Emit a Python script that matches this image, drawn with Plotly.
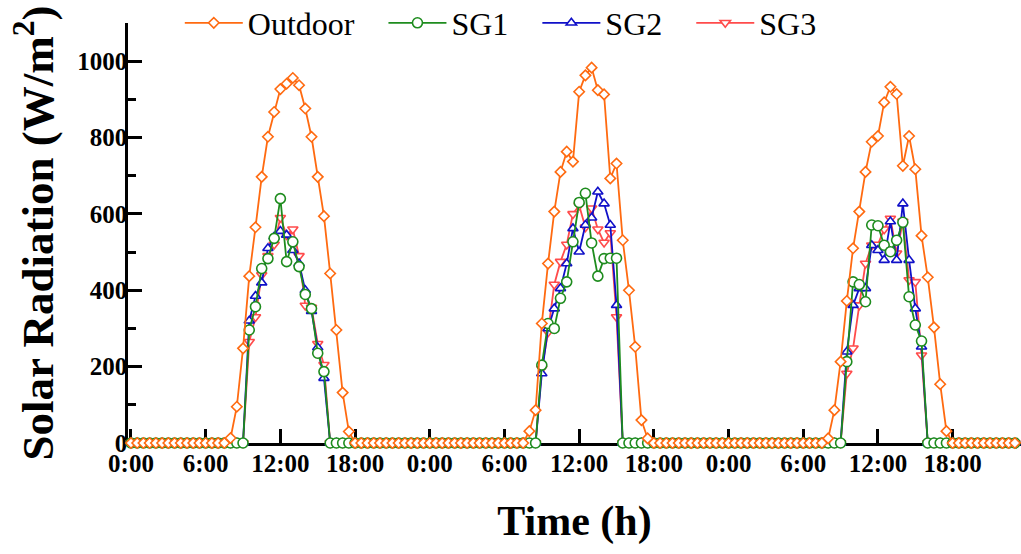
import plotly.graph_objects as go

# Time axis: half-hourly readings over three days (hours since start)
hours = [i * 0.5 for i in range(144)]

tick_vals = [0, 6, 12, 18, 24, 30, 36, 42, 48, 54, 60, 66]
tick_text = ["0:00", "6:00", "12:00", "18:00", "0:00", "6:00", "12:00", "18:00",
             "0:00", "6:00", "12:00", "18:00"]

outdoor_day1 = [0, 0, 0, 0, 0, 0, 0, 0, 0, 0, 0, 0, 0, 0, 0, 0,
                13, 95, 248, 437, 565, 697, 802, 867, 927, 941, 956, 937, 876, 802, 697, 594, 444, 296, 132, 30,
                0, 0, 0, 0, 0, 0, 0, 0, 0, 0, 0, 0]
outdoor_day2 = [0, 0, 0, 0, 0, 0, 0, 0, 0, 0, 0, 0, 0, 0, 0, 0,
                31, 86, 313, 470, 606, 710, 763, 737, 920, 963, 983, 924, 913, 693, 732, 531, 400, 252, 60, 12,
                0, 0, 0, 0, 0, 0, 0, 0, 0, 0, 0, 0]
outdoor_day3 = [0, 0, 0, 0, 0, 0, 0, 0, 0, 0, 0, 0, 0, 0, 0, 0,
                12, 86, 213, 372, 510, 606, 710, 789, 804, 892, 933, 914, 726, 804, 717, 543, 434, 303, 154, 31,
                0, 0, 0, 0, 0, 0, 0, 0, 0, 0, 0, 0]

sg1_day1 = [0, 0, 0, 0, 0, 0, 0, 0, 0, 0, 0, 0, 0, 0, 0, 0, 0, 0, 0,
            296, 357, 457, 483, 536, 640, 475, 527, 462, 389, 352, 235, 187,
            0, 0, 0, 0, 0, 0, 0, 0, 0, 0, 0, 0, 0, 0, 0, 0]
sg1_day2 = [0, 0, 0, 0, 0, 0, 0, 0, 0, 0, 0, 0, 0, 0, 0, 0, 0, 0,
            204, 313, 300, 379, 422, 527, 630, 654, 524, 437, 483, 484, 484,
            0, 0, 0, 0, 0, 0, 0, 0, 0, 0, 0, 0, 0, 0, 0, 0, 0]
sg1_day3 = [0, 0, 0, 0, 0, 0, 0, 0, 0, 0, 0, 0, 0, 0, 0, 0, 0, 0, 0,
            213, 422, 415, 370, 571, 569, 518, 501, 531, 578, 383, 309, 267,
            0, 0, 0, 0, 0, 0, 0, 0, 0, 0, 0, 0, 0, 0, 0, 0]

sg2_day1 = [0, 0, 0, 0, 0, 0, 0, 0, 0, 0, 0, 0, 0, 0, 0, 0, 0, 0, 0,
            320, 385, 420, 510, 540, 555, 545, 505, 470, 400, 345, 250, 170,
            0, 0, 0, 0, 0, 0, 0, 0, 0, 0, 0, 0, 0, 0, 0, 0]
sg2_day2 = [0, 0, 0, 0, 0, 0, 0, 0, 0, 0, 0, 0, 0, 0, 0, 0, 0, 0,
            182, 300, 352, 405, 470, 562, 501, 571, 590, 658, 627, 571, 361,
            0, 0, 0, 0, 0, 0, 0, 0, 0, 0, 0, 0, 0, 0, 0, 0, 0]
sg2_day3 = [0, 0, 0, 0, 0, 0, 0, 0, 0, 0, 0, 0, 0, 0, 0, 0, 0, 0, 0,
            239, 361, 405, 405, 518, 505, 479, 580, 479, 627, 479, 352, 252,
            0, 0, 0, 0, 0, 0, 0, 0, 0, 0, 0, 0, 0, 0, 0, 0]

sg3_day1 = [0, 0, 0, 0, 0, 0, 0, 0, 0, 0, 0, 0, 0, 0, 0, 0, 0, 0, 0,
            265, 330, 440, 490, 520, 590, 545, 560, 490, 360, 355, 260, 205,
            0, 0, 0, 0, 0, 0, 0, 0, 0, 0, 0, 0, 0, 0, 0, 0]
sg3_day2 = [0, 0, 0, 0, 0, 0, 0, 0, 0, 0, 0, 0, 0, 0, 0, 0, 0, 0,
            195, 290, 415, 475, 520, 600, 622, 565, 615, 560, 525, 550, 330,
            0, 0, 0, 0, 0, 0, 0, 0, 0, 0, 0, 0, 0, 0, 0, 0, 0]
sg3_day3 = [0, 0, 0, 0, 0, 0, 0, 0, 0, 0, 0, 0, 0, 0, 0, 0, 0, 0, 0,
            182, 248, 361, 470, 518, 520, 560, 588, 497, 580, 427, 422, 230,
            0, 0, 0, 0, 0, 0, 0, 0, 0, 0, 0, 0, 0, 0, 0, 0]

outdoor = outdoor_day1 + outdoor_day2 + outdoor_day3
sg1 = sg1_day1 + sg1_day2 + sg1_day3
sg2 = sg2_day1 + sg2_day2 + sg2_day3
sg3 = sg3_day1 + sg3_day2 + sg3_day3

FONT = "Liberation Serif, Times New Roman, serif"
PAD = "\u00a0\u00a0\u00a0"

fig = go.Figure()

series = [
    ("SG3", sg3, "#FF4B4B", "triangle-down", 9),
    ("SG2", sg2, "#1010C8", "triangle-up", 9),
    ("SG1", sg1, "#1E8C1E", "circle", 10),
    ("Outdoor", outdoor, "#FF6A10", "diamond", 8),
]
for name, vals, color, sym, size in series:
    fig.add_trace(go.Scatter(
        x=hours, y=vals, name=name + PAD, mode="lines+markers",
        line=dict(color=color, width=1.8),
        marker=dict(symbol=sym, size=size, color="white",
                    line=dict(color=color, width=1.6)),
        cliponaxis=False,
    ))

fig.update_layout(
    width=1021, height=554,
    margin=dict(l=128, r=0, t=23, b=111, autoexpand=False),
    paper_bgcolor="white", plot_bgcolor="white",
    font=dict(family=FONT, color="black"),
    showlegend=True,
    legend=dict(
        orientation="h", traceorder="reversed",
        x=0.058, xanchor="left", y=1.0, yanchor="middle",
        font=dict(family=FONT, size=32, color="black"),
        bgcolor="rgba(0,0,0,0)", itemwidth=58,
    ),
    xaxis=dict(
        range=[-0.24, 71.49],
        tickmode="array", tickvals=tick_vals, ticktext=tick_text,
        ticks="inside", ticklen=14, tickwidth=2.5, tickcolor="black",
        showline=True, linecolor="black", linewidth=2.5,
        showgrid=False, zeroline=False, layer="below traces",
        ticklabelstandoff=-4,
        tickfont=dict(family=FONT, size=25, color="black", weight="bold"),
        title=dict(text="Time (h)", standoff=30,
                   font=dict(family=FONT, size=42, color="black", weight="bold")),
    ),
    yaxis=dict(
        range=[0, 1100],
        tickmode="array", tickvals=[0, 200, 400, 600, 800, 1000],
        ticks="inside", ticklen=14, tickwidth=2.5, tickcolor="black",
        minor=dict(dtick=100, tick0=0, ticks="inside", ticklen=8, tickwidth=2.5, tickcolor="black"),
        showline=True, linecolor="black", linewidth=2.5,
        showgrid=False, zeroline=False, layer="below traces",
        ticklabelstandoff=-7,
        tickfont=dict(family=FONT, size=25, color="black", weight="bold"),
        title=dict(text="Solar Radiation (W/m<sup>2</sup>)", standoff=10,
                   font=dict(family=FONT, size=45, color="black", weight="bold")),
    ),
)

fig.write_html("out.html")
